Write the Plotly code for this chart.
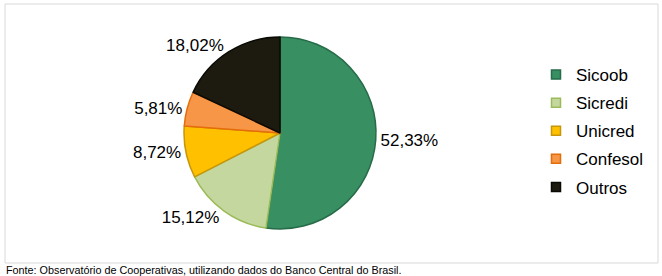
import plotly.graph_objects as go

categories = ["Sicoob", "Sicredi", "Unicred", "Confesol", "Outros"]
values = [52.33, 15.12, 8.72, 5.81, 18.02]
label_text = ["52,33%", "15,12%", "8,72%", "5,81%", "18,02%"]
source_text = "Fonte: Observatório de Cooperativas, utilizando dados do Banco Central do Brasil."

fill_colors = ["#378F62", "#C4D79E", "#FFC000", "#F79646", "#1D1A10"]
line_colors = ["#276B49", "#9BBB59", "#C8960A", "#E46C0A", "#0A0A05"]

W, H = 662, 276
FONT = "Liberation Sans, Arial, sans-serif"

fig = go.Figure()
fig.add_trace(go.Pie(
    labels=categories,
    values=values,
    text=label_text,
    textinfo="text",
    textposition="outside",
    sort=False,
    direction="clockwise",
    rotation=0,
    marker=dict(colors=fill_colors, line=dict(color=line_colors, width=1.5)),
    textfont=dict(family=FONT, size=17, color="#000000"),
    domain=dict(x=[184/W, 376/W], y=[1-229/H, 1-37/H]),
    hoverinfo="label+percent",
    showlegend=False,
))

# legend entries (one per category) as square markers
for name, fc, lc in zip(categories, fill_colors, line_colors):
    fig.add_trace(go.Scatter(
        x=[None], y=[None], mode="markers", name=name, legendgroup=name,
        marker=dict(symbol="square", size=9, color=fc, line=dict(color=lc, width=1.5)),
        showlegend=True, hoverinfo="skip",
    ))

fig.update_layout(
    width=W, height=H,
    margin=dict(l=0, r=0, t=0, b=0),
    paper_bgcolor="#FFFFFF",
    plot_bgcolor="#FFFFFF",
    font=dict(family=FONT, size=14, color="#000000"),
    xaxis=dict(visible=False),
    yaxis=dict(visible=False),
    showlegend=True,
    legend=dict(
        x=536/W, y=1-131/H, xanchor="left", yanchor="middle",
        font=dict(family=FONT, size=17, color="#000000"),
        tracegroupgap=3, itemwidth=30, bgcolor="rgba(0,0,0,0)",
    ),
    shapes=[dict(type="rect", xref="paper", yref="paper",
                 x0=5/W, x1=658/W, y0=1-263/H, y1=1-4/H,
                 line=dict(color="#D9D9D9", width=1), fillcolor="rgba(0,0,0,0)")],
    annotations=[dict(text=source_text, xref="paper", yref="paper",
                      x=4/W, y=1-270/H, xanchor="left", yanchor="middle",
                      showarrow=False, font=dict(family=FONT, size=10.8, color="#000000"))],
)

fig.write_html("out.html")
